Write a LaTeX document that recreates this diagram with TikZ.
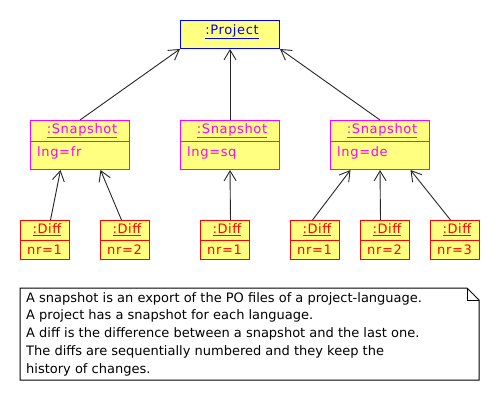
\documentclass[tikz,border=0pt]{standalone}
\usepackage{fontspec}
\setmainfont{DejaVu Sans}
\newfontfamily\umlfont[LetterSpace=5]{DejaVu Sans}
\usetikzlibrary{arrows.meta,calc}
\definecolor{umlfill}{HTML}{FFFF80}
\definecolor{umlblue}{HTML}{0000FF}
\definecolor{umlmag}{HTML}{FF00FF}
\definecolor{umlred}{HTML}{FF0000}
\tikzset{
  obj/.style={draw, fill=umlfill, line width=1pt, anchor=north west, inner sep=0pt, minimum width=99pt},
  projbox/.style={obj, draw=umlblue, minimum height=28pt},
  snapbox/.style={obj, draw=umlmag, minimum height=49pt},
  diffbox/.style={obj, draw=umlred, minimum width=49pt, minimum height=39pt},
  umltxt/.style={font=\umlfont\fontsize{13}{15}\selectfont, inner sep=0pt},
  link/.style={draw=black!85, line width=0.9pt, -{Straight Barb[length=10pt,width=12pt,line width=0.9pt]}},
  notetxt/.style={font=\fontsize{13}{17.8}\selectfont, inner sep=0pt, anchor=north west, align=left},
}
\begin{document}
\begin{tikzpicture}[x=1pt,y=-1pt]
\useasboundingbox (0,0) rectangle (500,400);
% project
\node[projbox] (p) at (180,20) {};
\node[umltxt, text=umlblue] (pt) at (232,32) {\underline{:Project}};
% snapshots
\foreach \n/\x/\l in {s1/30/fr, s2/180/sq, s3/330/de} {
  \node[snapbox] (\n) at (\x,120) {};
  \draw[umlmag, line width=1pt] ($(\n.north west)+(0,21)$) -- ($(\n.north east)+(0,21)$);
  \node[umltxt, text=umlmag] (\n t) at ($(\n.north)+(2,11)$) {\underline{:Snapshot}};
  \node[umltxt, text=umlmag, anchor=west] (\n a) at ($(\n.north west)+(7,33)$) {lng=\l};
}
% diffs
\foreach \n/\x/\k in {d1/20/1, d2/100/2, d3/200/1, d4/290/1, d5/360/2, d6/430/3} {
  \node[diffbox] (\n) at (\x,220) {};
  \draw[umlred, line width=1pt] ($(\n.north west)+(0,20)$) -- ($(\n.north east)+(0,20)$);
  \node[umltxt, text=umlred] (\n t) at ($(\n.north)+(2,10)$) {\underline{:Diff}};
  \node[umltxt, text=umlred, anchor=west] (\n a) at ($(\n.north west)+(7,30)$) {nr=\k};
}
% links
\draw[link] (s1.north) -- (p.south west);
\draw[link] (s2.north) -- (p.south);
\draw[link] (s3.north) -- (p.south east);
\draw[link] ([xshift=5.5pt]d1.north) -- ([xshift=-19.5pt]s1.south);
\draw[link] ([xshift=-3.5pt]d2.north) -- ([xshift=20.5pt]s1.south);
\draw[link] ([xshift=5.5pt]d3.north) -- (s2.south);
\draw[link] ([xshift=-2.5pt]d4.north) -- ([xshift=-29.5pt]s3.south);
\draw[link] ([xshift=-4.5pt]d5.north) -- (s3.south);
\draw[link] ([xshift=-4.5pt]d6.north) -- ([xshift=30.5pt]s3.south);
% note
\coordinate (n1) at (20,288);
\coordinate (n2) at (467,288);
\coordinate (n3) at (479,300);
\coordinate (n4) at (479,380);
\coordinate (n5) at (20,380);
\coordinate (nf) at (467,300);
\draw[line width=1pt, fill=white] (n1) -- (n2) -- (n3) -- (n4) -- (n5) -- cycle;
\draw[line width=1pt] (n2) -- (nf) -- (n3);
\node[notetxt] (note) at (26,292) {A snapshot is an export of the PO files of a project-language.\\
A project has a snapshot for each language.\\
A diff is the difference between a snapshot and the last one.\\
The diffs are sequentially numbered and they keep the\\
history of changes.};
\end{tikzpicture}
\end{document}
